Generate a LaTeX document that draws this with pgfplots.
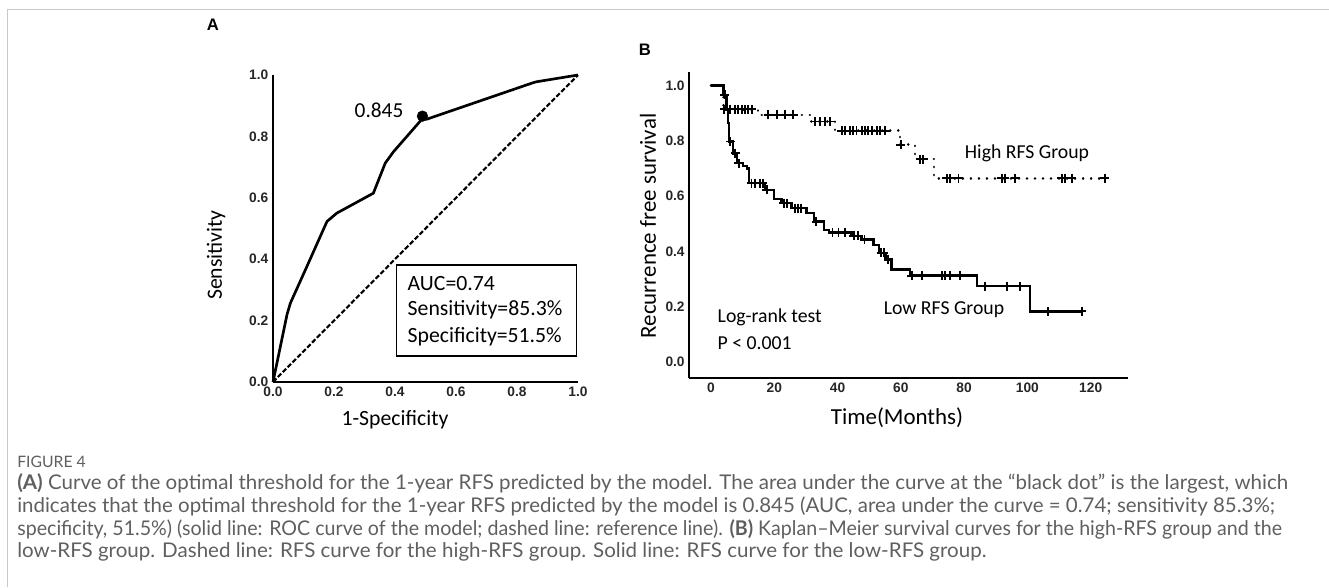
\documentclass[border=0pt]{standalone}
\usepackage{fontspec}
\setmainfont{Liberation Sans}
\newfontfamily\calfont{Carlito}
\newfontfamily\capfont{Lato}
\usepackage{graphicx}
\usepackage{pgfplots}
\pgfplotsset{compat=1.18}
\definecolor{capgray}{RGB}{95,95,95}
\definecolor{framegray}{RGB}{200,200,200}

\pgfplotsset{
  kmaxis/.style={
    scale only axis,
    axis lines=left,
    axis line style={-, line width=1.6pt},
    major tick length=0pt,
    tick label style={font=\bfseries\fontsize{10.3}{11}\selectfont, text=black!85},
    /pgf/number format/assume math mode=true,
    clip=false,
  },
  onedec/.style={/pgf/number format/.cd, fixed, fixed zerofill, precision=1},
}

\begin{document}
\begin{tikzpicture}
\begin{scope}[x=0.75pt,y=-0.75pt]
  \path[use as bounding box] (0,0) rectangle (1329,587);
  \draw[framegray, line width=0.9pt] (7.5,587) -- (7.5,9.5) -- (1329,9.5);
  \coordinate (A0) at (273,382);
  \coordinate (B0) at (689.3,378.3);

  % panel letters
  \node[font=\bfseries\fontsize{12.5}{13}\selectfont] at (213,25) {A};
  \node[font=\bfseries\fontsize{12.5}{13}\selectfont] at (645,50) {B};

  % panel A texts
  \node[rotate=90, font=\calfont\fontsize{16.3}{18}\selectfont] at (216,255) {Sensitivity};
  \node[font=\calfont\fontsize{16.3}{18}\selectfont] at (395,420) {1-Specificity};
  \node[font=\calfont\fontsize{16}{18}\selectfont] at (379,110) {0.845};
  \draw[line width=0.8pt] (396.7,265) rectangle (576.7,356);
  \node[anchor=west, font=\calfont\fontsize{16.3}{18}\selectfont] at (403,283.3) {AUC=0.74};
  \node[anchor=west, font=\calfont\fontsize{16.3}{18}\selectfont] at (403,310) {Sensitivity=85.3\%};
  \node[anchor=west, font=\calfont\fontsize{16.3}{18}\selectfont] at (403,336.7) {Specificity=51.5\%};

  % panel B texts
  \node[rotate=90, font=\calfont\fontsize{17.2}{19}\selectfont] at (648,226) {Recurrence free survival};
  \node[font=\calfont\fontsize{17.2}{19}\selectfont] at (897,418) {Time(Months)};
  \node[font=\calfont\fontsize{14.8}{16}\selectfont] at (1027,153) {High RFS Group};
  \node[font=\calfont\fontsize{14.8}{16}\selectfont] at (944,310) {Low RFS Group};
  \node[anchor=west, font=\calfont\fontsize{14.8}{16}\selectfont] at (713,317.3) {Log-rank test};
  \node[anchor=west, font=\calfont\fontsize{14.8}{16}\selectfont] at (713,342.7) {P < 0.001};

  % caption
  \node[anchor=west, inner sep=0pt, text=capgray, font=\capfont\fontsize{11.8}{13}\selectfont] at (17,462) {FIGURE 4};
  \begin{scope}[every node/.style={anchor=west, inner sep=0pt, text=capgray, font=\capfont\fontsize{15.2}{17}\selectfont}]
    \node at (17,483) {\scalebox{1.013}[1]{\textbf{(A)} Curve of the optimal threshold for the 1-year RFS predicted by the model. The area under the curve at the “black dot” is the largest, which}};
    \node at (17,506) {\scalebox{1.01}[1]{indicates that the optimal threshold for the 1-year RFS predicted by the model is 0.845 (AUC, area under the curve = 0.74; sensitivity 85.3\%;}};
    \node at (17,529) {\scalebox{0.968}[1]{specificity, 51.5\%) (solid line: ROC curve of the model; dashed line: reference line). \textbf{(B)} Kaplan–Meier survival curves for the high-RFS group and the}};
    \node at (17,552) {\scalebox{1.014}[1]{low-RFS group. Dashed line: RFS curve for the high-RFS group. Solid line: RFS curve for the low-RFS group.}};
  \end{scope}
\end{scope}

% ---- panel A: ROC
\begin{axis}[kmaxis,
    at={(A0)}, anchor=south west,
    width=228.75pt, height=230.25pt,
    xmin=0, xmax=1, ymin=0, ymax=1,
    xtick={0,0.2,0.4,0.6,0.8,1.0},
    ytick={0,0.2,0.4,0.6,0.8,1.0},
    xticklabel style={onedec},
    yticklabel style={onedec},
]
\addplot[black, line width=1.6pt, dash pattern=on 3.6pt off 1.6pt] coordinates {(0,0) (1,1)};
\addplot[black, line width=2pt, line join=round] coordinates {
  (0,0) (0.046,0.22) (0.057,0.257) (0.111,0.376) (0.177,0.523) (0.209,0.55)
  (0.329,0.615) (0.368,0.713) (0.395,0.75) (0.49,0.858) (0.504,0.856)
  (0.853,0.975) (0.864,0.978) (1,1)
};
\addplot[only marks, mark=*, mark size=4pt, black] coordinates {(0.49,0.866)};
\end{axis}

% ---- panel B: Kaplan-Meier
\begin{axis}[kmaxis,
    at={(B0)}, anchor=south west,
    width=328.8pt, height=229.95pt,
    xmin=-6.86, xmax=131.7, ymin=-0.058, ymax=1.05,
    xtick={0,20,40,60,80,100,120},
    ytick={0,0.2,0.4,0.6,0.8,1.0},
    yticklabel style={onedec},
]
% high RFS group (dotted)
\addplot[const plot, black, line width=2pt, line cap=round, dash pattern=on 0.01pt off 6pt] coordinates {
  (0,1.0) (3.9,0.914) (14.9,0.894) (31.3,0.870) (39.2,0.837) (59.7,0.786)
  (64.5,0.734) (70.5,0.665) (124.5,0.665)
};
\addplot[only marks, mark=+, mark size=3.4pt, mark options={line width=1.4pt}, black] coordinates {
  (4.2,0.914) (6.0,0.914) (7.6,0.914) (8.6,0.914) (9.7,0.914) (10.7,0.914) (11.8,0.914) (12.9,0.914)
  (18.1,0.894) (20.8,0.894) (23.4,0.894) (26.0,0.894)
  (32.9,0.870) (34.4,0.870) (36.0,0.870) (37.6,0.870)
  (41.3,0.837) (42.4,0.837) (43.9,0.837) (45.0,0.837) (46.0,0.837) (47.6,0.837)
  (48.7,0.837) (49.7,0.837) (50.8,0.837) (52.4,0.837) (53.4,0.837) (55.0,0.837)
  (60.0,0.786) (66.1,0.734) (67.1,0.734)
  (74.5,0.665) (75.5,0.665) (78.2,0.665) (91.9,0.665) (92.9,0.665) (96.1,0.665)
  (110.8,0.665) (111.9,0.665) (114.0,0.665) (124.5,0.665)
};
% low RFS group (solid)
\addplot[const plot, black, line width=1.8pt] coordinates {
  (0,1.0) (3.9,0.966) (4.9,0.912) (5.3,0.864) (5.6,0.798) (7.0,0.755) (8.3,0.719)
  (10.1,0.710) (11.3,0.700) (12.0,0.647) (17.1,0.623) (19.9,0.589) (22.3,0.575)
  (25.5,0.557) (30.2,0.540) (32.5,0.508) (35.8,0.479) (37.3,0.469) (44.4,0.457)
  (47.6,0.443) (51.3,0.424) (53.0,0.395) (55.2,0.371) (57.1,0.335) (62.9,0.313)
  (84.0,0.275) (100.8,0.184) (117.7,0.184)
};
\addplot[only marks, mark=+, mark size=3.4pt, mark options={line width=1.4pt}, black] coordinates {
  (4.3,0.966) (6.1,0.798) (7.6,0.755) (8.8,0.719) (12.8,0.647) (13.9,0.647) (15.6,0.647)
  (16.3,0.647) (17.6,0.623) (23.0,0.575) (24.0,0.575) (26.5,0.557) (27.6,0.557) (28.5,0.557)
  (33.2,0.508) (38.4,0.469) (40.3,0.469) (42.4,0.469) (45.2,0.457) (46.4,0.457) (48.5,0.443)
  (53.8,0.395) (54.6,0.395) (56.0,0.371) (63.4,0.313) (66.6,0.313) (72.9,0.313) (74.0,0.313)
  (75.5,0.313) (78.7,0.313) (86.6,0.275) (93.5,0.275) (97.7,0.275) (106.6,0.184) (117.2,0.184)
};
\end{axis}
\end{tikzpicture}
\end{document}
